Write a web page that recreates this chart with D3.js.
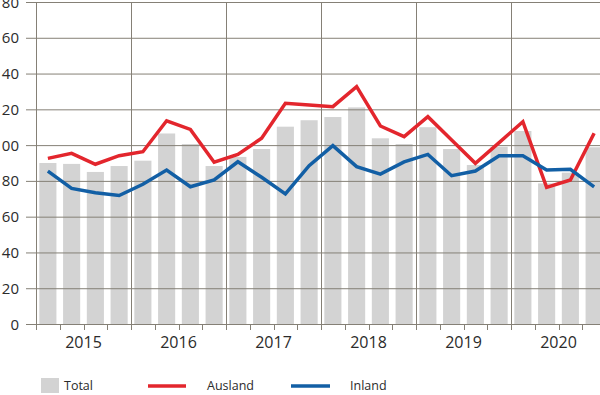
<!DOCTYPE html>
<html>
<head>
<meta charset="utf-8">
<script src="https://cdn.jsdelivr.net/npm/d3@7"></script>
<style>
  body { margin: 0; background: #fff; }
  svg { display: block; font-family: "Open Sans", sans-serif; }
</style>
</head>
<body>
<div id="chart-area"></div>
<script>
// quarterly values 2015 Q1 .. 2020 Q4
const quarters = d3.range(24).map(i => `${2015 + Math.floor(i / 4)}Q${i % 4 + 1}`)
const years = ['2015', '2016', '2017', '2018', '2019', '2020']
const total = [90, 89.5, 85, 88.3, 91.3, 106.5, 100.6, 88.3, 93.4, 97.8, 110.3, 113.9,
               115.7, 121.1, 103.8, 100.6, 110, 97.8, 88.9, 99.1, 107.9, 78.6, 84.6, 98.8]
const ausland = [92.6, 95.4, 89.3, 94.1, 96.3, 113.6, 108.8, 90.4, 94.8, 103.8, 123.4, 122.4,
                 121.5, 132.7, 110.7, 104.7, 115.9, 102.8, 89.8, 101.4, 113.1, 76.4, 80.5, 106.6]
const inland = [85.5, 75.8, 73.4, 71.8, 78.1, 86.1, 76.7, 80.5, 90.7, 82, 72.7, 88.5,
                99.7, 88, 83.8, 90.6, 94.8, 82.9, 85.5, 94.1, 94.1, 86.1, 86.5, 76.7]
const yTicks = [0, 20, 40, 60, 80, 100, 120, 140, 160, 180]

const width = 600, height = 395
const margin = {left: 36, right: 606, top: 2, bottom: 324}

const svg = d3.select('#chart-area').append('svg')
  .attr('width', width)
  .attr('height', height)

const x = d3.scaleBand().domain(quarters).range([margin.left, margin.right])
  .paddingInner(0.28).paddingOuter(0.14)
const xq = d3.scaleLinear().domain([0, 24]).range([margin.left, margin.right])
const y = d3.scaleLinear().domain([0, 180]).range([margin.bottom, margin.top])

const gridColor = '#858076'

// bars
svg.append('g').selectAll('rect').data(total).enter().append('rect')
  .attr('x', (d, i) => x(quarters[i]))
  .attr('y', d => y(d))
  .attr('width', x.bandwidth())
  .attr('height', d => margin.bottom - y(d))
  .attr('fill', '#d3d3d3')

// horizontal grid + y labels (hundreds digit runs off the left edge, as in the original)
const yAxis = svg.append('g')
yAxis.selectAll('line').data(yTicks).enter().append('line')
  .attr('x1', 26).attr('x2', width)
  .attr('y1', d => y(d) + 0.5).attr('y2', d => y(d) + 0.5)
  .attr('stroke', gridColor).attr('stroke-width', 1)
yAxis.selectAll('text').data(yTicks).enter().append('text')
  .attr('x', 19).attr('y', d => y(d) + 5.5)
  .attr('text-anchor', 'end')
  .attr('font-size', 15)
  .attr('fill', '#2b2b2b')
  .text(d => d)

// vertical year lines
svg.append('g').selectAll('line').data(d3.range(0, 25, 4)).enter().append('line')
  .attr('x1', d => Math.round(xq(d)) + 0.5).attr('x2', d => Math.round(xq(d)) + 0.5)
  .attr('y1', margin.top).attr('y2', margin.bottom + 6)
  .attr('stroke', gridColor).attr('stroke-width', 1)

// quarter ticks
svg.append('g').selectAll('line').data(d3.range(1, 24)).enter().append('line')
  .attr('x1', d => Math.round(xq(d)) + 0.5).attr('x2', d => Math.round(xq(d)) + 0.5)
  .attr('y1', margin.bottom).attr('y2', margin.bottom + 6)
  .attr('stroke', gridColor).attr('stroke-width', 1)

// year labels
svg.append('g').selectAll('text').data(years).enter().append('text')
  .attr('x', (d, i) => xq(i * 4 + 2))
  .attr('y', 348)
  .attr('text-anchor', 'middle')
  .attr('font-size', 16)
  .attr('fill', '#2b2b2b')
  .text(d => d)

// lines
const line = d3.line()
  .x((d, i) => x(quarters[i]) + x.bandwidth() / 2)
  .y(d => y(d))

svg.append('path').datum(ausland)
  .attr('d', line)
  .attr('fill', 'none')
  .attr('stroke', '#e3262d')
  .attr('stroke-width', 3.5)

svg.append('path').datum(inland)
  .attr('d', line)
  .attr('fill', 'none')
  .attr('stroke', '#125fa5')
  .attr('stroke-width', 3.5)

// legend
const legend = svg.append('g').attr('font-size', 12.5).attr('fill', '#2b2b2b')
legend.append('rect').attr('x', 41).attr('y', 378).attr('width', 18).attr('height', 15)
  .attr('fill', '#d3d3d3')
legend.append('text').attr('x', 64).attr('y', 390).text('Total')
legend.append('line').attr('x1', 148).attr('x2', 186).attr('y1', 386).attr('y2', 386)
  .attr('stroke', '#e3262d').attr('stroke-width', 3.5)
legend.append('text').attr('x', 207).attr('y', 390).text('Ausland')
legend.append('line').attr('x1', 291).attr('x2', 330).attr('y1', 386).attr('y2', 386)
  .attr('stroke', '#125fa5').attr('stroke-width', 3.5)
legend.append('text').attr('x', 350).attr('y', 390).text('Inland')
</script>
</body>
</html>
